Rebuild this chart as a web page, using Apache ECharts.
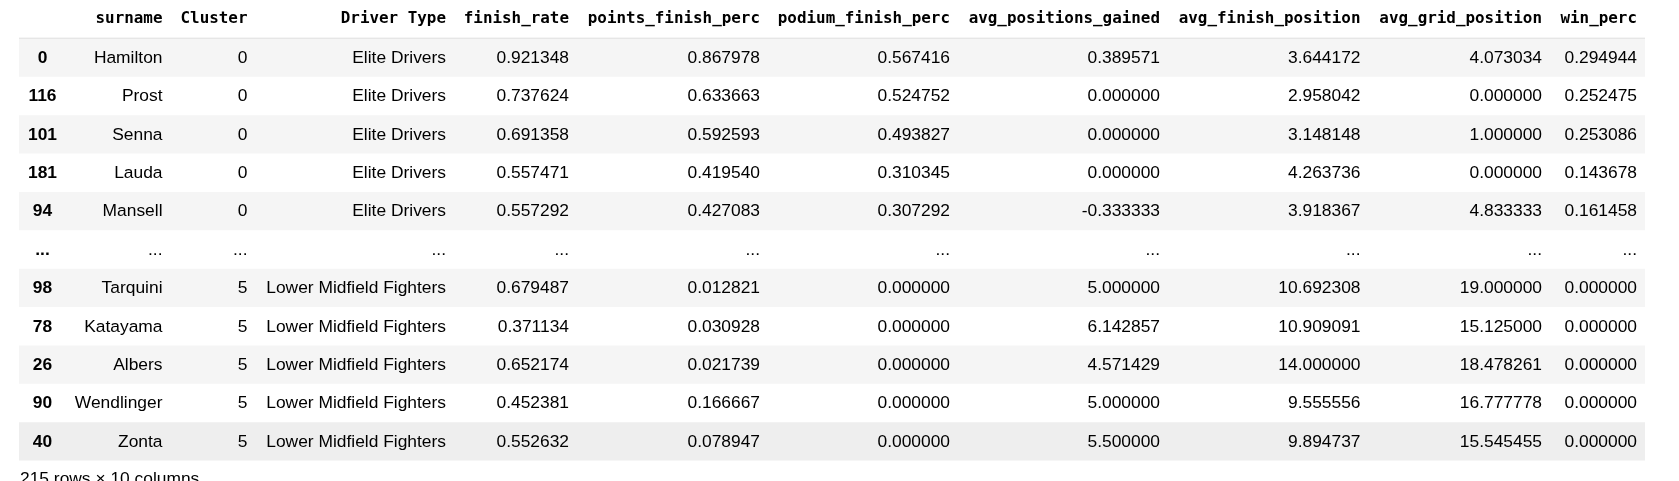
<!DOCTYPE html>
<html>
<head>
<meta charset="utf-8">
<script src="https://cdn.jsdelivr.net/npm/echarts@6.0.0/dist/echarts.min.js"></script>
<style>
html,body{margin:0;padding:0;background:#ffffff;}
#chart{width:1679px;height:481px;}
</style>
</head>
<body>
<div id="chart"></div>
<script>
// ---------- DATA ----------
const columnHeaders = ['', 'surname', 'Cluster', 'Driver Type', 'finish_rate', 'points_finish_perc',
  'podium_finish_perc', 'avg_positions_gained', 'avg_finish_position', 'avg_grid_position', 'win_perc'];
const rowIndex = ['0', '116', '101', '181', '94', '...', '98', '78', '26', '90', '40'];
const surname = ['Hamilton', 'Prost', 'Senna', 'Lauda', 'Mansell', '...', 'Tarquini', 'Katayama', 'Albers', 'Wendlinger', 'Zonta'];
const cluster = ['0', '0', '0', '0', '0', '...', '5', '5', '5', '5', '5'];
const driverType = ['Elite Drivers', 'Elite Drivers', 'Elite Drivers', 'Elite Drivers', 'Elite Drivers', '...',
  'Lower Midfield Fighters', 'Lower Midfield Fighters', 'Lower Midfield Fighters', 'Lower Midfield Fighters', 'Lower Midfield Fighters'];
const finishRate = [0.921348, 0.737624, 0.691358, 0.557471, 0.557292, null, 0.679487, 0.371134, 0.652174, 0.452381, 0.552632];
const pointsFinishPerc = [0.867978, 0.633663, 0.592593, 0.419540, 0.427083, null, 0.012821, 0.030928, 0.021739, 0.166667, 0.078947];
const podiumFinishPerc = [0.567416, 0.524752, 0.493827, 0.310345, 0.307292, null, 0.000000, 0.000000, 0.000000, 0.000000, 0.000000];
const avgPositionsGained = [0.389571, 0.000000, 0.000000, 0.000000, -0.333333, null, 5.000000, 6.142857, 4.571429, 5.000000, 5.500000];
const avgFinishPosition = [3.644172, 2.958042, 3.148148, 4.263736, 3.918367, null, 10.692308, 10.909091, 14.000000, 9.555556, 9.894737];
const avgGridPosition = [4.073034, 0.000000, 1.000000, 0.000000, 4.833333, null, 19.000000, 15.125000, 18.478261, 16.777778, 15.545455];
const winPerc = [0.294944, 0.252475, 0.253086, 0.143678, 0.161458, null, 0.000000, 0.000000, 0.000000, 0.000000, 0.000000];
const footerText = '215 rows × 10 columns';

// ---------- LAYOUT / STYLE ----------
const LAYOUT = {
  width: 1679,
  tableLeft: 19,
  tableRight: 1645,
  // text anchor per column (index column centred, the rest right-aligned)
  anchors: [42.5, 162.5, 247.5, 446, 569, 760, 950, 1160, 1360.5, 1542, 1637],
  rowHeight: 39.3,
  headerLineY: 28.3
};
const FONT_CELL = '17.4px "Liberation Sans", Arial, sans-serif';
const FONT_INDEX = 'bold 17.4px "Liberation Sans", Arial, sans-serif';
const FONT_HEAD = 'bold 15.9px "DejaVu Sans Mono", monospace';
const TEXT_COLOR = '#000000';
const STRIPE = '#f5f5f5';
const HOVER = '#eeeeee';
const LINE_COLOR = '#d6d6d6';

function fmt(v) { return v === null ? '...' : v.toFixed(6); }

const numericCols = [finishRate, pointsFinishPerc, podiumFinishPerc, avgPositionsGained, avgFinishPosition, avgGridPosition, winPerc];
const bodyRows = rowIndex.map((idx, r) => [idx, surname[r], cluster[r], driverType[r]].concat(numericCols.map(col => fmt(col[r]))));
const allRows = [columnHeaders].concat(bodyRows);   // row 0 = header
const yCategories = ['header'].concat(rowIndex.map((v, i) => 'r' + i));

// cells: [colIdx, rowIdx, text]
const cellData = [];
allRows.forEach((row, r) => row.forEach((txt, c) => cellData.push([c, r, txt])));
const rowData = allRows.map((_, r) => [r]);

const nRows = allRows.length;
const gridTop = LAYOUT.headerLineY - LAYOUT.rowHeight;

const chart = echarts.init(document.getElementById('chart'), null, { renderer: 'canvas' });
chart.setOption({
  animation: false,
  backgroundColor: '#ffffff',
  title: {
    text: footerText,
    left: 20,
    top: 471,
    padding: 0,
    textStyle: { fontSize: 17.4, fontWeight: 'normal', fontFamily: '"Liberation Sans", Arial, sans-serif', color: TEXT_COLOR }
  },
  grid: { left: 0, right: 0, top: gridTop, height: nRows * LAYOUT.rowHeight, containLabel: false },
  xAxis: { type: 'value', min: 0, max: LAYOUT.width, show: false },
  yAxis: { type: 'category', data: yCategories, inverse: true, show: false },
  series: [
    {
      type: 'custom',
      name: 'rows',
      silent: true,
      clip: false,
      data: rowData,
      encode: { y: 0 },
      renderItem: function (params, api) {
        const r = api.value(0);
        const c = api.coord([LAYOUT.tableLeft, r]);
        const e = api.coord([LAYOUT.tableRight, r]);
        const h = api.size([0, 1])[1];
        const top = c[1] - h / 2;
        if (r === 0) {
          return {
            type: 'line',
            shape: { x1: c[0], y1: top + h, x2: e[0], y2: top + h },
            style: { stroke: LINE_COLOR, lineWidth: 1.5 }
          };
        }
        let fill = null;
        if (r === nRows - 1) fill = HOVER;
        else if ((r - 1) % 2 === 0) fill = STRIPE;
        if (!fill) return null;
        return {
          type: 'rect',
          shape: { x: c[0], y: top, width: e[0] - c[0], height: h },
          style: { fill: fill }
        };
      }
    },
    {
      type: 'custom',
      name: 'cells',
      silent: true,
      clip: false,
      data: cellData,
      encode: { y: 1 },
      renderItem: function (params, api) {
        const col = api.value(0);
        const r = api.value(1);
        const txt = cellData[params.dataIndex][2];
        if (!txt) return null;
        const p = api.coord([LAYOUT.anchors[col], r]);
        let font = FONT_CELL, align = 'right';
        if (r === 0) font = FONT_HEAD;
        else if (col === 0) { font = FONT_INDEX; align = 'center'; }
        return {
          type: 'text',
          style: {
            x: p[0], y: p[1] + (r === 0 ? 0 : 0.5),
            text: txt,
            fill: TEXT_COLOR,
            font: font,
            align: align,
            verticalAlign: 'middle'
          }
        };
      }
    }
  ]
});
</script>
</body>
</html>
